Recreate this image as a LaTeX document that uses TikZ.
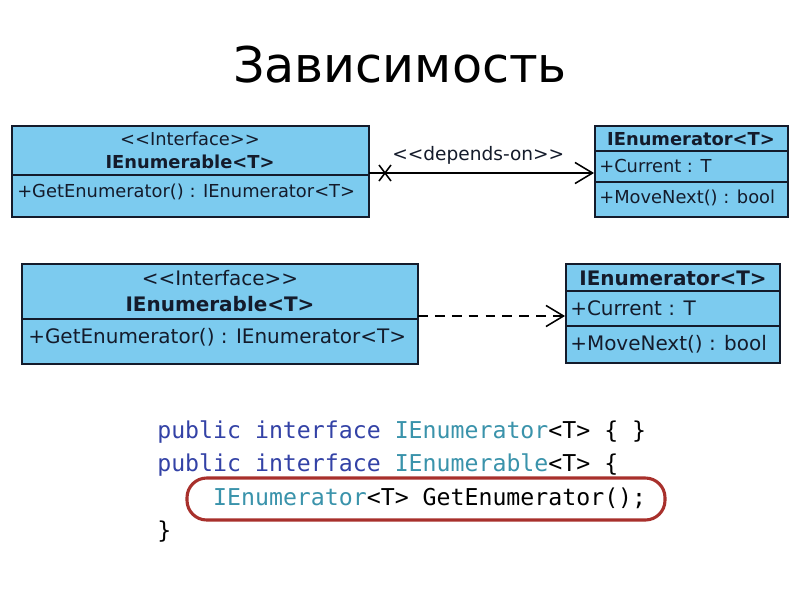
\documentclass[tikz,border=0pt]{standalone}
\usepackage{fontspec}
\setmainfont{DejaVu Sans}
\setmonofont{DejaVu Sans Mono}
\usepackage{xcolor}
\usetikzlibrary{positioning,arrows.meta,fit}

\definecolor{umlfill}{HTML}{7CCBEF}
\definecolor{umlline}{HTML}{141B2B}
\definecolor{kwblue}{HTML}{3342A6}
\definecolor{typeteal}{HTML}{3A93AB}
\definecolor{markred}{HTML}{A8302C}

\tikzset{
  umlbox/.style={draw=umlline,fill=umlfill,line width=1.4pt,inner sep=0pt},
  umltext/.style={inner sep=0pt,text=umlline},
  codeline/.style={anchor=base west,inner sep=0pt,font=\ttfamily\fontsize{16.5}{18}\selectfont},
  depline/.style={line width=1.1pt,-{Straight Barb[length=12.5pt,width=15pt,line width=1.1pt]}}
}

\newcommand{\kw}[1]{\textcolor{kwblue}{#1}}
\newcommand{\ty}[1]{\textcolor{typeteal}{#1}}

\begin{document}
\begin{tikzpicture}[x=0.025cm,y=-0.025cm]
    \useasboundingbox[fill=white] (0,0) rectangle (800,600);

    \node[inner sep=0pt,font=\fontsize{35}{40}\selectfont] (title) at (400,65) {Зависимость};

    % upper diagram
    \node[umlbox,fit={(12,126) (369,217)}] (enumA) {};
    \node[umlbox,fit={(595,126) (788,217)}] (iterA) {};
    \draw[umlline,line width=1.4pt] (12,175) coordinate (sepA) -- (enumA.east |- sepA);
    \draw[umlline,line width=1.4pt] (595,151) coordinate (sepB) -- (iterA.east |- sepB);
    \draw[umlline,line width=1.4pt] (595,182) coordinate (sepC) -- (iterA.east |- sepC);
    \node[umltext,font=\fontsize{12.7}{15}\selectfont] (stA) at (190,139) {<{}<Interface>{}>};
    \node[umltext,font=\bfseries\fontsize{12.7}{15}\selectfont] (nmA) at (190,162) {IEnumerable<T>};
    \node[umltext,font=\fontsize{12.7}{15}\selectfont,anchor=west] (opA) at (17,192) {+GetEnumerator() : IEnumerator<T>};
    \node[umltext,font=\bfseries\fontsize{12.7}{15}\selectfont] (nmB) at (691,139) {IEnumerator<T>};
    \node[umltext,font=\fontsize{12.7}{15}\selectfont,anchor=west] (atB) at (599,166) {+Current : T};
    \node[umltext,font=\fontsize{12.7}{15}\selectfont,anchor=west] (opB) at (599,198) {+MoveNext() : bool};

    \coordinate (depA) at (369,173);
    \draw[depline] (depA) -- (iterA.west |- depA);
    \coordinate (xA) at (385,173);
    \draw[line width=1.1pt] (xA) +(-6,-8) -- +(6,8) (xA) +(6,-8) -- +(-6,8);
    \node[umltext,font=\fontsize{13.2}{15}\selectfont,anchor=west] (depL) at (392,155) {<{}<depends-on>{}>};

    % lower diagram
    \node[umlbox,fit={(22,264) (418,364)}] (enumB) {};
    \node[umlbox,fit={(566,264) (780,363)}] (iterB) {};
    \draw[umlline,line width=1.4pt] (22,319) coordinate (sepD) -- (enumB.east |- sepD);
    \draw[umlline,line width=1.4pt] (566,291) coordinate (sepE) -- (iterB.east |- sepE);
    \draw[umlline,line width=1.4pt] (566,326) coordinate (sepF) -- (iterB.east |- sepF);
    \node[umltext,font=\fontsize{14.2}{17}\selectfont] (stC) at (220,278) {<{}<Interface>{}>};
    \node[umltext,font=\bfseries\fontsize{14.2}{17}\selectfont] (nmC) at (220,304) {IEnumerable<T>};
    \node[umltext,font=\fontsize{14.2}{17}\selectfont,anchor=west] (opC) at (28,337) {+GetEnumerator() : IEnumerator<T>};
    \node[umltext,font=\bfseries\fontsize{14.2}{17}\selectfont] (nmD) at (673,278) {IEnumerator<T>};
    \node[umltext,font=\fontsize{14.2}{17}\selectfont,anchor=west] (atD) at (570,308) {+Current : T};
    \node[umltext,font=\fontsize{14.2}{17}\selectfont,anchor=west] (opD) at (570,344) {+MoveNext() : bool};

    \coordinate (depB) at (418,316);
    \draw[depline,dash pattern=on 7pt off 5pt] (depB) -- (iterB.west |- depB);

    % code
    \node[codeline] (code1) at (157,438) {\kw{public interface} \ty{IEnumerator}<T> \{ \}};
    \node[codeline] (code2) at (157,471) {\kw{public interface} \ty{IEnumerable}<T> \{};
    \node[codeline] (code3) at (157,505) {\ \ \ \ \ty{IEnumerator}<T> GetEnumerator();};
    \node[codeline] (code4) at (157,538) {\}};
    \node[draw=markred,line width=2.2pt,rounded corners=14pt,inner sep=0pt,fit={(187,478) (665,520)}] (mark) {};
\end{tikzpicture}
\end{document}
